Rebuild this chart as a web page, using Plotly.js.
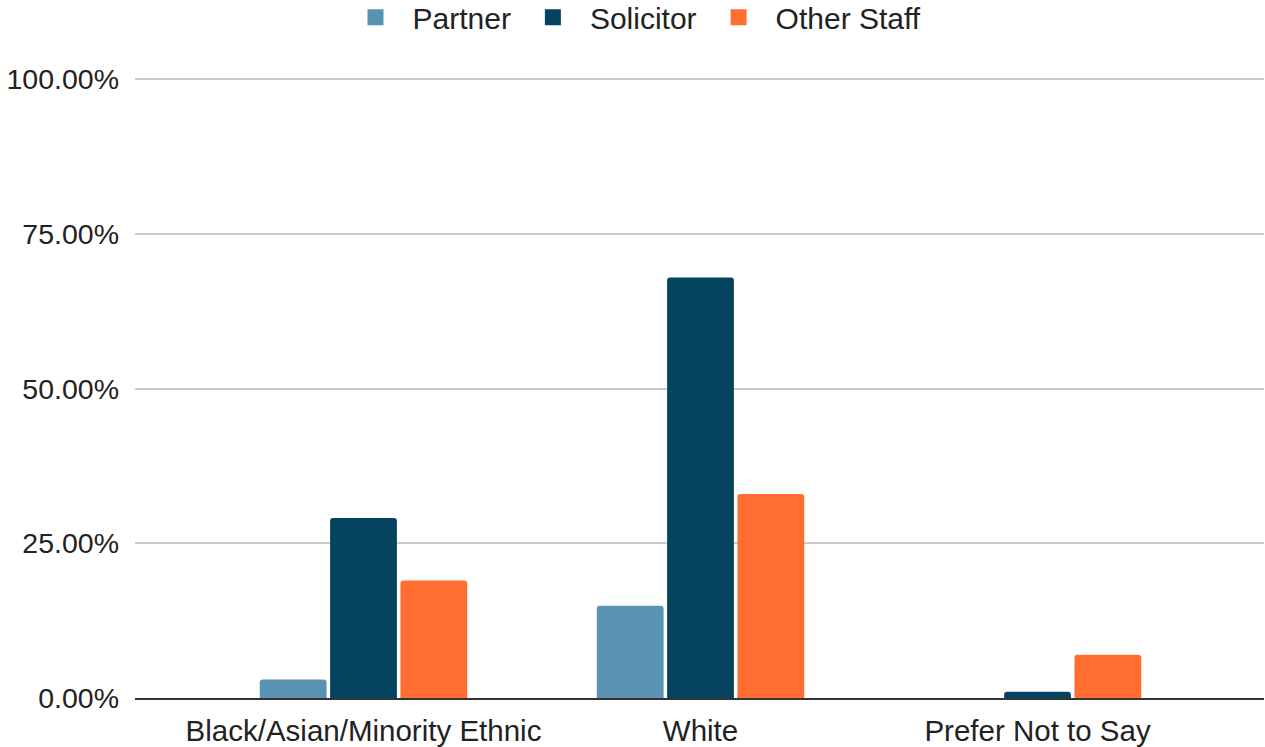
<!DOCTYPE html>
<html>
<head>
<meta charset="utf-8">
<script src="https://cdn.plot.ly/plotly-3.0.1.min.js"></script>
<style>html,body{margin:0;padding:0;background:#fff;}#chart{width:1265px;height:747px;}</style>
</head>
<body>
<div id="chart"></div>
<script>
const categories = ["Black/Asian/Minority Ethnic", "White", "Prefer Not to Say"];
const seriesNames = ["Partner", "Solicitor", "Other Staff"];
const partner = [0.03, 0.149, 0.0];
const solicitor = [0.291, 0.68, 0.01];
const otherStaff = [0.19, 0.33, 0.07];
const colors = ["#5A93B2", "#05445E", "#FF6D31"];
const yTicks = [0, 0.25, 0.5, 0.75, 1];

const allValues = [partner, solicitor, otherStaff];
const barTraces = seriesNames.map((name, i) => ({
  type: "bar",
  name: name,
  legendgroup: name,
  showlegend: false,
  x: categories,
  y: allValues[i],
  marker: {color: colors[i]},
  hoverinfo: "none"
}));
// legend entries (square swatches) only; their single point has no value so nothing is plotted
const legendTraces = seriesNames.map((name, i) => ({
  type: "scatter",
  mode: "markers",
  name: name,
  legendgroup: name,
  showlegend: true,
  x: [categories[0]],
  y: [null],
  marker: {color: colors[i], symbol: "square", size: 16, line: {width: 0}},
  hoverinfo: "none"
}));

const fontFamily = "Liberation Sans, Arial, sans-serif";
const xFont = {family: fontFamily, size: 29.5, color: "#222222"};
const yFont = {family: fontFamily, size: 28.5, color: "#222222"};

const layout = {
  width: 1265,
  height: 747,
  margin: {l: 135, r: 1, t: 77, b: 49, pad: 0},
  paper_bgcolor: "#ffffff",
  plot_bgcolor: "#ffffff",
  font: xFont,
  barmode: "group",
  bargap: 0.374,
  bargroupgap: 0.05,
  barcornerradius: 3,
  showlegend: true,
  legend: {
    orientation: "h",
    xref: "container",
    yref: "container",
    x: 0.5,
    xanchor: "center",
    y: 0.977,
    yanchor: "middle",
    font: {family: fontFamily, size: 30, color: "#222222"},
    itemwidth: 64,
    itemsizing: "trace",
    traceorder: "normal"
  },
  xaxis: {
    type: "category",
    range: [-0.678, 2.672],
    showgrid: false,
    zeroline: false,
    showline: true,
    linecolor: "#333333",
    linewidth: 2,
    ticks: "",
    ticklabelstandoff: 6,
    tickfont: xFont,
    fixedrange: true
  },
  yaxis: {
    range: [0, 1.004],
    tickvals: yTicks,
    tickformat: ".2%",
    showgrid: true,
    gridcolor: "#cccccc",
    gridwidth: 2,
    zeroline: false,
    showline: false,
    ticks: "",
    ticklabelstandoff: 15,
    tickfont: yFont,
    fixedrange: true
  }
};

Plotly.newPlot("chart", barTraces.concat(legendTraces), layout, {displayModeBar: false, staticPlot: true});
</script>
</body>
</html>
